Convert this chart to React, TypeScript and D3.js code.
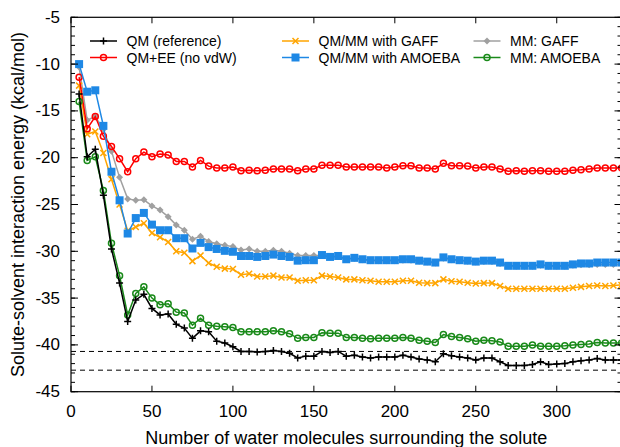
import React from "react";
import * as d3 from "d3";

const xValues = [5,10,15,20,25,30,35,40,45,50,55,60,65,70,75,80,85,90,95,100,105,110,115,120,125,130,135,140,145,150,155,160,165,170,175,180,185,190,195,200,205,210,215,220,225,230,235,240,245,250,255,260,265,270,275,280,285,290,295,300,305,310,315,320,325,330,335,340];

const qmRef = [-13.2,-19.9,-19.1,-24.0,-29.75,-33.4,-37.5,-35.2,-34.6,-36.1,-36.8,-36.7,-37.8,-38.2,-39.3,-38.5,-38.6,-39.6,-39.8,-40.2,-40.7,-40.7,-40.75,-40.7,-40.6,-40.7,-40.9,-41.4,-41.2,-41.2,-40.7,-40.8,-40.7,-41.2,-41.1,-41.3,-41.4,-41.3,-41.3,-41.3,-41.1,-41.3,-41.5,-41.6,-41.8,-40.95,-41.15,-41.3,-41.4,-41.6,-41.4,-41.4,-41.8,-42.2,-42.2,-42.2,-42.1,-41.8,-42.1,-42.05,-42.0,-41.8,-41.7,-41.6,-41.45,-41.6,-41.6,-41.6];

const qmEE = [-11.4,-16.9,-15.6,-17.7,-18.8,-20.1,-21.5,-20.1,-19.4,-19.9,-19.6,-19.7,-20.4,-20.4,-21.0,-20.3,-20.9,-21.1,-21.1,-21.0,-21.4,-21.35,-21.4,-21.35,-21.2,-21.2,-21.2,-21.4,-21.2,-21.2,-20.8,-20.8,-20.8,-21.0,-21.0,-21.0,-21.0,-21.0,-21.1,-21.0,-20.85,-20.85,-21.1,-21.1,-21.2,-20.6,-20.85,-20.85,-20.9,-21.1,-21.0,-21.0,-21.2,-21.45,-21.4,-21.45,-21.4,-21.4,-21.45,-21.45,-21.45,-21.35,-21.3,-21.2,-21.1,-21.1,-21.1,-21.1];

const qmmmGaff = [-12.3,-17.5,-17.2,-19.5,-22.3,-25.0,-27.8,-27.4,-27.0,-28.05,-28.5,-29.0,-30.0,-30.15,-31.05,-30.45,-31.25,-31.65,-31.85,-31.9,-32.5,-32.4,-32.7,-32.7,-32.6,-32.8,-32.8,-33.15,-33.1,-33.1,-32.6,-32.7,-32.8,-33.0,-33.0,-33.1,-33.15,-33.25,-33.25,-33.25,-33.15,-33.15,-33.35,-33.4,-33.4,-33.0,-33.2,-33.25,-33.35,-33.45,-33.4,-33.4,-33.7,-34.0,-34.0,-34.0,-34.0,-34.0,-34.0,-34.0,-34.0,-33.9,-33.8,-33.7,-33.65,-33.7,-33.65,-33.6];

const qmmmAmoeba = [-10.0,-12.95,-12.8,-16.6,-21.5,-24.55,-28.1,-26.45,-25.9,-27.15,-27.75,-27.75,-28.6,-28.6,-29.7,-29.1,-29.55,-29.75,-29.95,-30.05,-30.5,-30.5,-30.6,-30.5,-30.35,-30.5,-30.6,-31.0,-30.95,-30.95,-30.4,-30.6,-30.5,-30.85,-30.7,-30.85,-30.95,-30.95,-30.95,-30.95,-30.85,-30.85,-31.0,-31.1,-31.2,-30.65,-30.85,-30.95,-31.0,-31.1,-31.0,-31.0,-31.2,-31.55,-31.55,-31.55,-31.55,-31.4,-31.55,-31.55,-31.55,-31.4,-31.3,-31.3,-31.2,-31.2,-31.2,-31.2];

const mmGaff = [-10.3,-16.0,-15.6,-17.0,-19.3,-22.1,-24.4,-24.55,-24.5,-25.15,-25.6,-26.3,-27.2,-27.75,-28.7,-28.4,-28.95,-29.2,-29.35,-29.5,-29.85,-29.75,-30.0,-30.0,-29.9,-30.0,-30.2,-30.45,-30.45,-30.45,-30.45,-30.6,-30.55,-30.85,-30.75,-30.9,-31.0,-31.0,-31.0,-31.0,-30.95,-30.95,-31.05,-31.15,-31.25,-30.75,-30.9,-31.0,-31.05,-31.15,-31.1,-31.1,-31.3,-31.55,-31.6,-31.6,-31.6,-31.5,-31.6,-31.6,-31.6,-31.5,-31.45,-31.45,-31.4,-31.4,-31.4,-31.4];

const mmAmoeba = [-14.0,-20.3,-19.9,-23.5,-29.15,-32.6,-36.8,-34.5,-33.8,-35.0,-35.7,-35.6,-36.5,-36.6,-37.9,-37.15,-37.9,-38.0,-38.05,-38.15,-38.6,-38.6,-38.6,-38.6,-38.5,-38.6,-38.8,-39.3,-39.2,-39.2,-38.7,-38.75,-38.75,-39.2,-39.2,-39.3,-39.35,-39.3,-39.3,-39.3,-39.2,-39.3,-39.5,-39.6,-39.75,-38.9,-39.1,-39.2,-39.35,-39.6,-39.5,-39.55,-39.7,-40.15,-40.15,-40.15,-40.0,-40.15,-40.15,-40.15,-40.1,-40.0,-39.95,-39.9,-39.75,-39.8,-39.8,-39.8];

const dashedLevels = [-40.7, -42.7];
const xTicks = [0, 50, 100, 150, 200, 250, 300];
const yTicks = [-5, -10, -15, -20, -25, -30, -35, -40, -45];
const yMinorTicks = d3.range(-45, -4, 1);

const seriesNames = ["QM (reference)", "QM+EE (no vdW)", "QM/MM with GAFF", "QM/MM with AMOEBA", "MM: GAFF", "MM: AMOEBA"];
const seriesColors = ["#000000", "#ff0000", "#ffa500", "#1e88e5", "#a0a0a0", "#1a8a1a"];
const seriesMarkers = ["plus", "circle", "cross", "square", "diamond", "circle"];
const seriesData = [qmRef, qmEE, qmmmGaff, qmmmAmoeba, mmGaff, mmAmoeba];
const drawOrder = [4, 2, 1, 3, 5, 0];

const W = 620, H = 447;
const M = { left: 71, right: 621.5, top: 17.3, bottom: 391.7 };
const FONT = "'Liberation Sans', Arial, Helvetica, sans-serif";

function Marker({ kind, color, x, y }: { kind: string; color: string; x: number; y: number }) {
  const t = `translate(${x},${y})`;
  if (kind === "plus") return <path transform={t} d="M-3.5,0H3.5M0,-3.5V3.5" stroke={color} strokeWidth={1.5} fill="none" />;
  if (kind === "cross") return <path transform={t} d="M-3,-3L3,3M-3,3L3,-3" stroke={color} strokeWidth={1.5} fill="none" />;
  if (kind === "square") return <rect x={x - 4} y={y - 4} width={8} height={8} fill={color} />;
  if (kind === "diamond") return <path transform={t} d="M0,-3.5L3.5,0L0,3.5L-3.5,0Z" fill={color} />;
  return <circle cx={x} cy={y} r={3} stroke={color} strokeWidth={1.5} fill="none" />;
}

export default function App() {
  const x = d3.scaleLinear().domain([0, 340]).range([M.left, M.right]);
  const y = d3.scaleLinear().domain([-45, -5]).range([M.bottom, M.top]);
  const line = d3.line<number>().x((_, i) => x(xValues[i])).y((d) => y(d));

  const legendPos = [
    { lx: 90, ty: 41 }, { lx: 90, ty: 57.5 },
    { lx: 282, ty: 41 }, { lx: 282, ty: 57.5 },
    { lx: 473.5, ty: 41 }, { lx: 473.5, ty: 57.5 },
  ];

  return (
    <svg width={W} height={H} style={{ position: "absolute", left: 0, top: 0 }} fontFamily={FONT}>
      <rect width={W} height={H} fill="#fff" />
      <defs>
        <clipPath id="plotclip">
          <rect x={M.left} y={M.top} width={M.right - M.left} height={M.bottom - M.top} />
        </clipPath>
      </defs>

      {dashedLevels.map((v) => (
        <line key={v} x1={M.left} x2={M.right} y1={y(v)} y2={y(v)} stroke="#000" strokeWidth={1} strokeDasharray="5,4" />
      ))}

      <g clipPath="url(#plotclip)">
        {drawOrder.map((si) => (
          <g key={si}>
            <path d={line(seriesData[si]) || ""} fill="none" stroke={seriesColors[si]} strokeWidth={1.5} />
            {seriesData[si].map((v, i) => (
              <Marker key={i} kind={seriesMarkers[si]} color={seriesColors[si]} x={x(xValues[i])} y={y(v)} />
            ))}
          </g>
        ))}
      </g>

      {/* frame */}
      <rect x={M.left} y={M.top} width={M.right - M.left} height={M.bottom - M.top} fill="none" stroke="#000" strokeWidth={1.2} />

      {/* y ticks */}
      {yMinorTicks.map((v) => (
        <g key={"ym" + v}>
          <line x1={M.left} x2={M.left + 4} y1={y(v)} y2={y(v)} stroke="#000" strokeWidth={1} />
          <line x1={M.right} x2={M.right - 4} y1={y(v)} y2={y(v)} stroke="#000" strokeWidth={1} />
        </g>
      ))}
      {yTicks.map((v) => (
        <g key={"y" + v}>
          <line x1={M.left} x2={M.left + 7} y1={y(v)} y2={y(v)} stroke="#000" strokeWidth={1} />
          <line x1={M.right} x2={M.right - 7} y1={y(v)} y2={y(v)} stroke="#000" strokeWidth={1} />
          <text x={60} y={y(v)} textAnchor="end" dominantBaseline="central" fontSize={17}>{v}</text>
        </g>
      ))}

      {/* x ticks */}
      {xTicks.map((v) => (
        <g key={"x" + v}>
          <line x1={x(v)} x2={x(v)} y1={M.bottom} y2={M.bottom - 6} stroke="#000" strokeWidth={1} />
          <line x1={x(v)} x2={x(v)} y1={M.top} y2={M.top + 6} stroke="#000" strokeWidth={1} />
          <text x={x(v)} y={417} textAnchor="middle" fontSize={17}>{v}</text>
        </g>
      ))}

      <text x={(M.left + M.right) / 2} y={444} textAnchor="middle" fontSize={18}>
        Number of water molecules surrounding the solute
      </text>
      <text transform={`translate(18,${(M.top + M.bottom) / 2}) rotate(-90)`} textAnchor="middle" dominantBaseline="central" fontSize={18}>
        Solute-solvent interaction energy (kcal/mol)
      </text>

      {/* legend */}
      {seriesNames.map((name, i) => {
        const p = legendPos[i];
        return (
          <g key={name}>
            <line x1={p.lx} x2={p.lx + 27} y1={p.ty} y2={p.ty} stroke={seriesColors[i]} strokeWidth={1.5} />
            <Marker kind={seriesMarkers[i]} color={seriesColors[i]} x={p.lx + 13.5} y={p.ty} />
            <text x={p.lx + 36.5} y={p.ty} dominantBaseline="central" fontSize={14}>{name}</text>
          </g>
        );
      })}
    </svg>
  );
}
